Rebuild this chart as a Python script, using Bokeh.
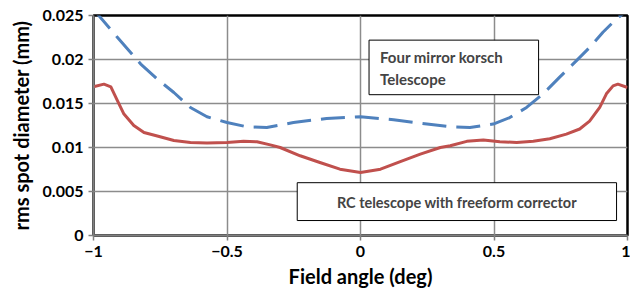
from bokeh.plotting import figure
from bokeh.models import FixedTicker, Label, Range1d
from bokeh.embed import file_html
from bokeh.resources import INLINE

# data
red_x = [-1, -0.961, -0.935, -0.910, -0.886, -0.849, -0.811, -0.761, -0.699, -0.637, -0.575, -0.5,
         -0.438, -0.388, -0.338, -0.301, -0.226, -0.152, -0.077, 0, 0.075, 0.149, 0.224, 0.299,
         0.336, 0.398, 0.460, 0.522, 0.585, 0.647, 0.709, 0.771, 0.821, 0.858, 0.896, 0.921,
         0.946, 0.964, 1]
red_y = [0.0169, 0.0172, 0.0169, 0.0153, 0.0138, 0.0125, 0.0117, 0.0113, 0.0108, 0.01057, 0.0105,
         0.01057, 0.0107, 0.01065, 0.0103, 0.0100, 0.00906, 0.0083, 0.00754, 0.00716, 0.00754,
         0.0084, 0.00925, 0.0100, 0.0102, 0.0107, 0.01084, 0.01065, 0.01057, 0.0107, 0.0110,
         0.01152, 0.0121, 0.0130, 0.01455, 0.0161, 0.0170, 0.0172, 0.01682]
blue_x = [-1, -0.985, -0.910, -0.861, -0.823, -0.761, -0.699, -0.637, -0.575, -0.5, -0.425, -0.351,
          -0.251, -0.127, 0, 0.124, 0.249, 0.336, 0.410, 0.497, 0.559, 0.622, 0.684, 0.746, 0.808,
          0.858, 0.908, 0.958, 0.983, 1]
blue_y = [0.0255, 0.02516, 0.0225, 0.0208, 0.01948, 0.01777, 0.01625, 0.01455, 0.01349, 0.01284,
          0.01235, 0.01227, 0.01284, 0.0133, 0.01349, 0.01315, 0.01266, 0.01235, 0.01227, 0.01266,
          0.0134, 0.01455, 0.0161, 0.0180, 0.01985, 0.02136, 0.0231, 0.0246, 0.0252, 0.0256]
x_ticks = [-1, -0.5, 0, 0.5, 1]
x_tick_labels = ["\u22121", "\u22120.5", "0", "0.5", "1"]
y_ticks = [0, 0.005, 0.01, 0.015, 0.02, 0.025]
y_tick_labels = ["0", "0.005", "0.01", "0.015", "0.02", "0.025"]
label_blue = ["Four mirror korsch", "Telescope"]
label_red = "RC telescope with freeform corrector"

FONT = "Lato"

p = figure(width=630, height=294, output_backend="svg", toolbar_location=None,
           x_range=Range1d(-1, 1), y_range=Range1d(0, 0.025),
           min_border_left=93, min_border_right=3, min_border_top=15, min_border_bottom=59)
p.background_fill_color = "white"
p.border_fill_color = "white"
p.outline_line_color = "black"
p.outline_line_width = 2.5

for ax in (p.xaxis, p.yaxis):
    ax.axis_line_color = "#808080"
    ax.axis_line_width = 2
    ax.major_tick_line_color = "#808080"
    ax.major_tick_line_width = 1.5
    ax.major_tick_out = 5
    ax.major_tick_in = 0
    ax.minor_tick_line_color = None
    ax.major_label_text_font = FONT
    ax.major_label_text_font_style = "bold"
    ax.major_label_text_font_size = "16px"
    ax.major_label_text_color = "black"
    ax.axis_label_text_font = FONT
    ax.axis_label_text_font_style = "bold"
    ax.axis_label_text_font_size = "20px"
    ax.axis_label_text_color = "black"

p.xaxis.ticker = FixedTicker(ticks=x_ticks)
p.xaxis.major_label_overrides = {t: l for t, l in zip(x_ticks, x_tick_labels)}
p.yaxis.ticker = FixedTicker(ticks=y_ticks)
p.yaxis.major_label_overrides = {t: l for t, l in zip(y_ticks, y_tick_labels)}
p.xaxis.axis_label = "Field angle (deg)"
p.yaxis.axis_label = "rms spot diameter (mm)"
p.xaxis.axis_label_standoff = 4
p.yaxis.axis_label_standoff = 7

p.grid.grid_line_color = "#8c8c8c"
p.grid.grid_line_width = 1.5
p.xgrid.ticker = FixedTicker(ticks=x_ticks)
p.ygrid.ticker = FixedTicker(ticks=y_ticks)

p.line(blue_x, blue_y, line_color="#4F81BD", line_width=3, line_dash="24 10",
       line_join="round")
p.line(red_x, red_y, line_color="#C0504D", line_width=3, line_join="round")

# annotation boxes
p.quad(left=[0.032], right=[0.667], top=[0.0222], bottom=[0.0160],
       fill_color="white", line_color="black", line_width=1)
p.quad(left=[-0.237], right=[0.959], top=[0.0060], bottom=[0.0017],
       fill_color="white", line_color="black", line_width=1)

for i, t in enumerate(label_blue):
    p.add_layout(Label(x=0.073, y=0.0203 - i * 0.0025, text=t, text_font=FONT,
                       text_font_style="bold", text_font_size="15px",
                       text_baseline="middle", text_align="left"))
p.add_layout(Label(x=0.361, y=0.00375, text=label_red, text_font=FONT,
                   text_font_style="bold", text_font_size="14.5px",
                   text_baseline="middle", text_align="center"))

open("out.html", "w").write(file_html(p, INLINE))
